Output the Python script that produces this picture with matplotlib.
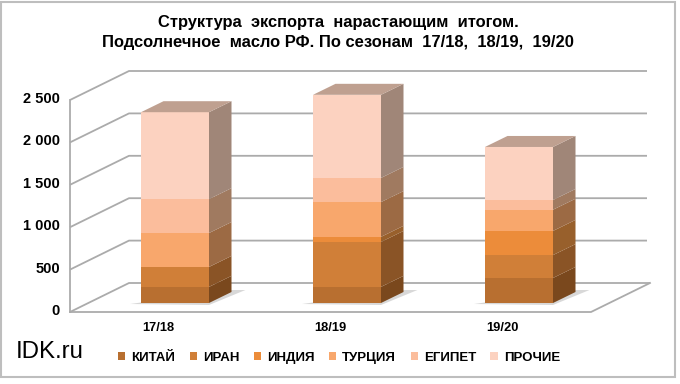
import matplotlib
matplotlib.use("Agg")
import matplotlib.pyplot as plt
from matplotlib.patches import Polygon, Rectangle

plt.rcParams['font.family'] = ['Liberation Sans', 'DejaVu Sans']

seasons = ["17/18", "18/19", "19/20"]
names = ["КИТАЙ", "ИРАН", "ИНДИЯ", "ТУРЦИЯ", "ЕГИПЕТ", "ПРОЧИЕ"]
kitai = [190, 190, 295]
iran = [235, 530, 270]
india = [0, 60, 285]
turkey = [400, 410, 250]
egypt = [400, 285, 115]
other = [1025, 980, 625]
series = [kitai, iran, india, turkey, egypt, other]
y_ticks = [0, 500, 1000, 1500, 2000, 2500]
y_labels = ["0", "500", "1 000", "1 500", "2 000", "2 500"]

front = ["#B86F30", "#D07F38", "#EC8C3A", "#F8A76C", "#FBBD9C", "#FCD2C0"]
side = ["#7A481D", "#8A5426", "#98602C", "#9C6A44", "#A07A60", "#A08678"]
top_col = "#BFA090"
grid_col = "#ABABAB"

# px per unit and per category, used to place the plane in the figure
k = 42.4 / 500
step = 172.0
fig = plt.figure(figsize=(6.8, 3.84), dpi=100)
ax = fig.add_axes([0, 0, 1, 1])
ax.set_xlim(-175 / step, (680 - 175) / step)
ax.set_ylim((303 - 384) / k, 303 / k)
ax.axis("off")

# depth offset of the whole plot box, front of floor to back wall
DX = 59 / step
DY = 29 / k
# bar depth offset from its front face
BX = 22.5 / step
BY = 11 / k


def quad(points, **kw):
    ax.add_patch(Polygon(points, closed=True, **kw))


# floor edge positions, in category units
left = (70 - 175) / step
right = (591 - 175) / step
base = -9 / k  # front of floor is 9 px under bar base

# walls and floor lines
for v in y_ticks:
    xs = [left, left + DX, right + DX - (3 / step if v else 0)]
    ys = [base + v, base + v + DY, base + v + DY]
    ax.plot(xs, ys, color=grid_col, lw=1.3, solid_capstyle="butt", zorder=1)
ax.plot([left, left], [base, base + 2500], color=grid_col, lw=1.3, zorder=1)
ax.plot([left, right, right + DX], [base, base, base + DY], color=grid_col, lw=1.3, zorder=1)

# bars
half = 34 / step
for i in range(len(seasons)):
    # soft shadow on the floor
    quad([(i - half - 11 / step, -1 / k), (i + half, -2 / k),
          (i + half + BX + 14 / step, BY + 2 / k), (i + half + BX, BY + 2 / k)],
         facecolor="#CFCFCF", edgecolor="none", alpha=0.8, zorder=2)
    bottom = 0
    for s, values in enumerate(series):
        y0 = bottom
        y1 = bottom + values[i]
        quad([(i - half, y0), (i + half, y0), (i + half, y1), (i - half, y1)],
             facecolor=front[s], edgecolor="none", zorder=3)
        quad([(i + half, y0), (i + half + BX, y0 + BY), (i + half + BX, y1 + BY), (i + half, y1)],
             facecolor=side[s], edgecolor="none", zorder=3)
        bottom = y1
    quad([(i - half, bottom), (i + half, bottom), (i + half + BX, bottom + BY), (i - half + BX, bottom + BY)],
         facecolor=top_col, edgecolor="none", zorder=3)

# labels
for v, lab in zip(y_ticks, y_labels):
    ax.text((60 - 175) / step, base + v + 11, lab, ha="right", va="center",
            fontsize=10.5, fontweight="bold", color="black")
for i, s in enumerate(seasons):
    ax.text(i - 16.5 / step, (303 - 328) / k, s, ha="center", va="center",
            fontsize=9.3, fontweight="bold")

fig.text(338 / 680, 1 - 23 / 384, "Структура  экспорта  нарастающим  итогом.", ha="center", va="center",
         fontsize=11.85, fontweight="bold")
fig.text(338 / 680, 1 - 43 / 384, "Подсолнечное  масло РФ. По сезонам  17/18,  18/19,  19/20", ha="center",
         va="center", fontsize=11.85, fontweight="bold")
fig.text(16 / 680, 1 - 352 / 384, "IDK.ru", ha="left", va="center", fontsize=17.3)

handles = [Rectangle((0, 0), 1, 1, facecolor=c, edgecolor="none") for c in front]
ax.legend(handles, names, ncol=6, frameon=False, loc="center", bbox_to_anchor=(339 / 680, 1 - 358 / 384),
          prop={"size": 9.5, "weight": "bold"}, handlelength=0.55, handleheight=0.55,
          handletextpad=0.45, columnspacing=1.1)

# outer frame
fig.add_artist(Rectangle((1 / 680, 1 - 377 / 384), 674 / 680, 375 / 384, transform=fig.transFigure,
                         facecolor="none", edgecolor="#BEBEBE", lw=1.5))

fig.savefig("out.png", dpi=100)
